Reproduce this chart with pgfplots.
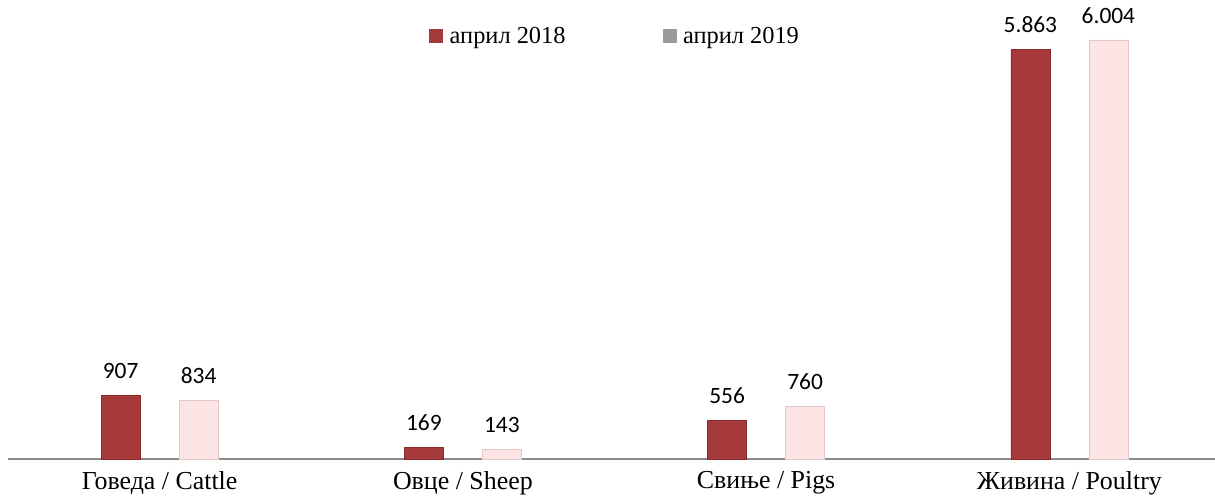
\documentclass[border=0pt]{standalone}
\usepackage{pgfplots}
\pgfplotsset{compat=1.18}
\usepackage{fontspec}
\setmainfont{Liberation Serif}
\newfontfamily\numfont{Carlito}

\definecolor{barA}{HTML}{A63A3B}
\definecolor{barAedge}{HTML}{8A2C2E}
\definecolor{barB}{HTML}{FCE4E4}
\definecolor{barBedge}{HTML}{E2C8C8}
\definecolor{axisgray}{HTML}{8C8C8C}
\definecolor{keygray}{HTML}{9A9A9A}

\begin{document}
\begin{tikzpicture}
\begin{axis}[
  width=1207bp, height=459bp, scale only axis,
  xmin=-0.5, xmax=3.48, ymin=0, ymax=6577,
  axis x line*=bottom, axis y line=none,
  axis line style={draw=axisgray, line width=1.6bp},
  xtick={0,1,2,3},
  xticklabels={Говеда / Cattle, Овце / Sheep, Свиње / Pigs, Живина / Poultry},
  major tick length=0pt,
  xticklabel style={font=\fontsize{26}{30}\selectfont, yshift=-9bp},
  ybar, bar width=39bp,
  nodes near coords, point meta=explicit symbolic,
  nodes near coords style={font=\numfont\fontsize{23.5}{26}\selectfont, yshift=13bp},
  legend columns=2,
  legend style={at={(0.503,0.922)}, anchor=center, draw=none, fill=none,
    font=\fontsize{24.5}{28}\selectfont,
    /tikz/every odd column/.append style={column sep=5bp},
    /tikz/every even column/.append style={column sep=95bp}},
]
\addlegendimage{legend image code/.code={\fill[barA] (0bp,-6bp) rectangle (13bp,7bp);}}
\addlegendentry{април 2018}
\addlegendimage{legend image code/.code={\fill[keygray] (0bp,-6bp) rectangle (13bp,7bp);}}
\addlegendentry{април 2019}

\addplot[forget plot, fill=barA, draw=barAedge, line width=0.8bp, bar shift=-39bp]
  coordinates {(0,907) [907] (1,169) [169] (2,556) [556] (3,5863) [5.863]};
\addplot[forget plot, fill=barB, draw=barBedge, line width=0.8bp, bar shift=39bp]
  coordinates {(0,834) [834] (1,143) [143] (2,760) [760] (3,6004) [6.004]};
\end{axis}
\pgfresetboundingbox
\path[use as bounding box] (-8bp,-40bp) rectangle (1207bp,459bp);
\end{tikzpicture}
\end{document}
